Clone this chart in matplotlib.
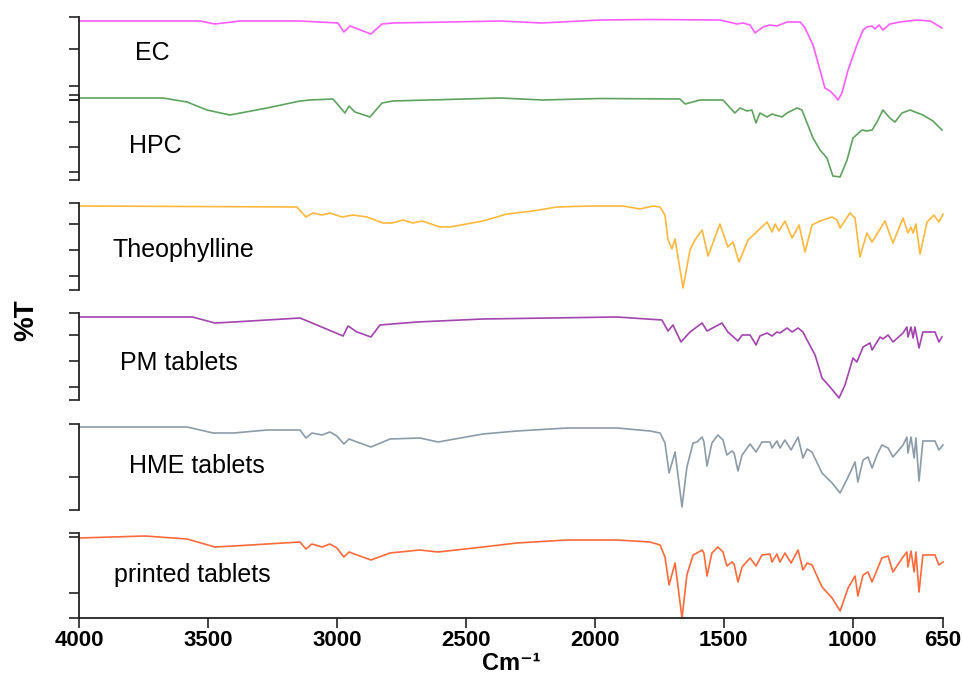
import matplotlib
matplotlib.use("Agg")
import matplotlib.pyplot as plt

plt.rcParams['font.family'] = ['Liberation Sans', 'DejaVu Sans']

# FTIR spectra (wavenumber in cm-1, %T in arbitrary units per panel)
ec_wn = [4000, 3725, 3531, 3473, 3376, 3143, 2996, 2973, 2949, 2868, 2825, 2783, 2562, 2368, 2205,
         1980, 1786, 1515, 1449, 1425, 1398, 1379, 1348, 1321, 1294, 1255, 1204, 1185, 1154, 1127,
         1108, 1088, 1069, 1057, 1042, 1018, 984, 960, 945, 925, 914, 898, 883, 856, 817, 751, 700, 673, 654]
ec_t = [79, 79, 79, 76, 79, 79, 77, 68, 74, 66, 76, 77, 78, 79, 77,
        80, 80.5, 80, 76, 77, 75, 67, 73, 75, 74, 78, 78, 72, 55, 30,
        12, 9, 4, 0, 7, 30, 55, 70, 73, 74, 71, 75, 70, 76, 78, 80, 79, 75, 72]

hpc_wn = [4000, 3674, 3581, 3504, 3415, 3271, 3143, 3104, 3015, 2969, 2953, 2930, 2872, 2825, 2783,
          2368, 2201, 1980, 1670, 1650, 1592, 1503, 1457, 1437, 1410, 1391, 1375, 1360, 1332, 1313,
          1274, 1255, 1216, 1197, 1174, 1154, 1127, 1100, 1077, 1049, 1022, 999, 964, 945, 925,
          906, 883, 856, 836, 809, 778, 728, 689, 654]
hpc_t = [82, 82, 78, 70, 65, 72, 79, 80, 81, 67, 74, 68, 63, 77, 79,
         82, 80, 81.5, 81, 76, 80, 80, 67, 72, 69, 70, 57, 67, 63, 66,
         63, 67, 72, 70, 55, 42, 30, 22, 4, 3, 20, 42, 50, 49, 50,
         58, 70, 62, 58, 67, 70, 65, 59, 50]

theo_wn = [4000, 3155, 3120, 3093, 3058, 3027, 2980, 2938, 2883, 2821, 2786, 2744, 2705, 2670, 2600,
           2562, 2434, 2341, 2240, 2147, 2019, 1891, 1825, 1774, 1747, 1728, 1716, 1701, 1689, 1658,
           1631, 1612, 1584, 1561, 1515, 1484, 1464, 1441, 1406, 1332, 1313, 1301, 1286, 1263, 1235,
           1208, 1185, 1158, 1127, 1080, 1061, 1049, 1011, 991, 972, 945, 925, 875, 844, 805,
           786, 774, 766, 755, 739, 712, 685, 666, 650]
theo_t = [84, 83, 73, 77, 75, 77, 73, 75, 73, 67, 67, 70, 67, 69, 63,
          63, 69, 76, 79, 83, 84, 84, 81, 84, 83, 75, 50, 41, 51, 2,
          40, 50, 60, 34, 66, 43, 48, 28, 50, 68, 58, 66, 59, 69, 52,
          65, 38, 65, 69, 73, 70, 62, 77, 72, 33, 57, 48, 69, 47, 72,
          57, 63, 57, 66, 36, 68, 75, 68, 76]

pm_wn = [4000, 3560, 3473, 3400, 3143, 3124, 2976, 2957, 2922, 2868, 2833, 2689, 2434, 1914, 1740,
         1716, 1697, 1666, 1631, 1584, 1565, 1507, 1484, 1445, 1429, 1398, 1375, 1360, 1332, 1313,
         1294, 1282, 1255, 1235, 1212, 1193, 1177, 1146, 1119, 1088, 1053, 1030, 999, 984, 960,
         933, 925, 894, 883, 863, 844, 805, 790, 786, 774, 766, 759, 743, 728, 681, 666, 654]
pm_t = [83, 83, 77, 78, 82, 80, 64, 74, 68, 63, 75, 78, 81, 83, 80,
        69, 75, 58, 68, 77, 69, 77, 68, 59, 65, 65, 55, 64, 67, 64,
        68, 67, 72, 68, 72, 68, 60, 45, 22, 13, 2, 15, 42, 38, 53,
        57, 50, 63, 61, 65, 58, 67, 73, 63, 73, 62, 73, 52, 68, 68, 58, 63]

hme_wn = [4000, 3581, 3480, 3400, 3271, 3143, 3120, 3097, 3058, 3027, 3000, 2973, 2953, 2922, 2868,
          2794, 2678, 2608, 2434, 2302, 2108, 1914, 1786, 1747, 1728, 1712, 1689, 1662, 1643, 1619,
          1604, 1584, 1577, 1565, 1546, 1523, 1503, 1488, 1468, 1460, 1445, 1429, 1398, 1375, 1352,
          1321, 1313, 1294, 1282, 1263, 1239, 1212, 1193, 1177, 1158, 1119, 1080, 1049, 1018, 991,
          980, 960, 941, 925, 906, 887, 863, 844, 805, 790, 786, 774, 762, 755, 743, 728, 681, 666, 650]
hme_t = [83, 83, 77, 77, 80, 80, 72, 77, 75, 78, 74, 66, 71, 68, 63,
         71, 72, 68, 76, 79, 82, 82, 79, 77, 67, 37, 58, 3, 43, 67,
         68, 73, 68, 44, 67, 75, 70, 55, 59, 57, 39, 55, 66, 58, 68,
         68, 62, 69, 62, 70, 60, 73, 52, 61, 58, 37, 27, 17, 33, 48,
         28, 50, 53, 42, 55, 65, 62, 53, 65, 73, 57, 73, 52, 72, 29, 69, 69, 60, 65]

pr_wn = [4000, 3745, 3581, 3473, 3400, 3271, 3143, 3120, 3097, 3058, 3027, 3000, 2973, 2953, 2922,
         2868, 2794, 2678, 2608, 2434, 2302, 2108, 1914, 1786, 1747, 1728, 1712, 1689, 1662, 1643,
         1619, 1604, 1584, 1577, 1565, 1546, 1523, 1503, 1488, 1468, 1460, 1445, 1429, 1398, 1375,
         1352, 1321, 1313, 1294, 1282, 1263, 1239, 1212, 1193, 1177, 1158, 1119, 1080, 1049, 1018,
         991, 980, 960, 941, 925, 906, 887, 863, 844, 805, 790, 786, 774, 762, 755, 743, 728, 681, 666, 650]
pr_t = [80, 82, 79, 71, 72, 74, 76, 69, 74, 71, 74, 70, 61, 66, 63,
        58, 65, 68, 66, 71, 75, 78, 78, 76, 73, 61, 33, 55, 0, 43,
        63, 65, 68, 65, 42, 65, 71, 66, 52, 56, 54, 36, 51, 60, 52,
        63, 64, 56, 64, 56, 65, 55, 68, 48, 55, 53, 31, 20, 7, 30,
        42, 22, 43, 46, 36, 48, 60, 62, 46, 61, 66, 51, 67, 46, 66, 26, 63, 63, 53, 56]

names = ["EC", "HPC", "Theophylline", "PM tablets", "HME tablets", "printed tablets"]
xticks = [4000, 3500, 3000, 2500, 2000, 1500, 1000, 650]

# panel layout in pixels (top, bottom), y ticks, label position
W, H = 963, 677
panels = [
    (ec_wn, ec_t, "#ff5cff", 17, 100, [0, 14, 51, 83], (135, 60)),
    (hpc_wn, hpc_t, "#5fa35f", 95, 180, [0, 8, 33, 58, 80, 85], (129, 153)),
    (theo_wn, theo_t, "#ffb83d", 203, 290, [0, 14, 40, 66, 87], (112, 257)),
    (pm_wn, pm_t, "#a244ad", 313, 400, [0, 13, 39, 65, 87], (120, 370)),
    (hme_wn, hme_t, "#8c9ba8", 424, 510, [0, 33, 86], (129, 473)),
    (pr_wn, pr_t, "#ff6a3a", 533, 618, [0, 25, 81, 85], (114, 582)),
]

fig = plt.figure(figsize=(W / 100, H / 100), dpi=100)
x0, x1 = 79, 943

for i, (wn, t, col, top, bot, yt, lab) in enumerate(panels):
    ax = fig.add_axes([x0 / W, 1 - bot / H, (x1 - x0) / W, (bot - top) / H])
    ax.patch.set_alpha(0)
    ax.plot(wn, t, color=col, lw=1.2, clip_on=False)
    ax.set_xlim(4000, 650)
    ax.set_ylim(0, bot - top)
    ax.set_yticks(yt)
    ax.tick_params(axis='y', direction='out', length=7, width=1.2, labelleft=False, color='#222222')
    for s in ['top', 'right']:
        ax.spines[s].set_visible(False)
    ax.spines['left'].set_linewidth(1.3)
    ax.spines['left'].set_color('#222222')
    if i < len(panels) - 1:
        ax.spines['bottom'].set_visible(False)
        ax.set_xticks([])
    else:
        ax.spines['bottom'].set_linewidth(1.3)
        ax.spines['bottom'].set_color('#222222')
        ax.set_xticks(xticks)
        ax.set_xticklabels([str(v) for v in xticks], fontsize=16, fontweight='bold')
        ax.tick_params(axis='x', direction='out', length=7, width=1.2, pad=2, color='#222222')
    fig.text(lab[0] / W, 1 - lab[1] / H, names[i], fontsize=18, ha='left', va='baseline')

fig.text(511 / W, 1 - 670 / H, "Cm⁻¹", fontsize=17, fontweight='bold', ha='center', va='baseline')
fig.text(26 / W, 1 - 320 / H, "%T", fontsize=20, fontweight='bold', rotation=90, ha='center', va='center')

fig.savefig("out.png", dpi=100)
